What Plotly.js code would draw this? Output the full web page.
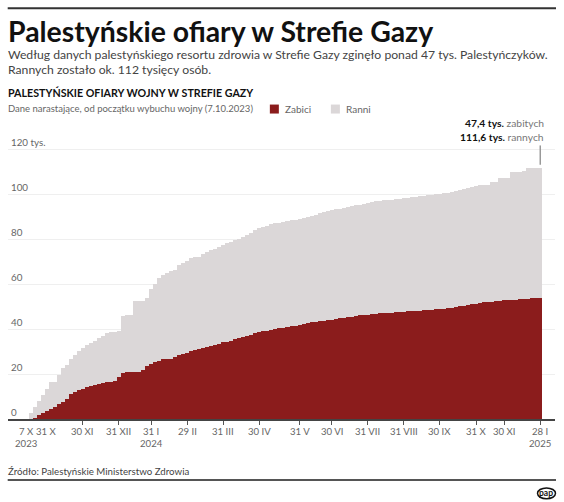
<!DOCTYPE html>
<html>
<head>
<meta charset="utf-8">
<script src="https://cdn.plot.ly/plotly-3.0.1.min.js"></script>
<style>
  html, body { margin: 0; padding: 0; background: #fff; }
  #chart { width: 564px; height: 502px; }
</style>
</head>
<body>
<div id="chart"></div>
<script>
// Cumulative wounded (thousands), one value per bar
const wounded = [
  2.5, 5.5, 8, 10.5, 13.5, 16.3, 16.3, 19.5, 22.5, 24.2,
  26.5, 28.4, 30.2, 31.5, 32.8, 33.8, 34.9, 36.1, 37, 38.2,
  38.7, 38.8, 39, 46, 46.2, 46.2, 52.4, 52.4, 52.4, 54,
  57.8, 60.2, 62.6, 64.1, 65.2, 65.8, 66.4, 68.6, 69.3, 70.2,
  71.5, 72, 72.3, 73.5, 74.5, 75.2, 75.8, 76.6, 77.5, 78.2,
  79, 79.7, 80.3, 81.2, 81.9, 83, 84, 84.9, 85.3, 85.8,
  86.6, 87.1, 87.3, 87.7, 88.1, 88.4, 88.8, 89.1, 89.4, 89.8,
  90.4, 91, 91.7, 92.3, 92.7, 93, 93.4, 93.7, 94, 94.4,
  94.7, 95.1, 95.5, 95.9, 96.3, 96.7, 96.9, 97.1, 97.3, 97.4,
  97.5, 97.8, 98, 98.3, 98.5, 98.8, 99, 99.2, 99.4, 99.6,
  99.8, 100, 100.2, 100.5, 100.7, 101.2, 101.7, 102.1, 102.6, 102.9,
  103.3, 103.6, 104, 104.4, 104.4, 105.6, 105.6, 107.1, 107.1, 107.1,
  110, 110, 110, 110.2, 111.6, 111.6, 111.6, 111.6
];
// Cumulative killed (thousands), one value per bar
const killed = [
  0, 0.5, 1.7, 2.8, 3.7, 4.6, 5.5, 6.5, 7.4, 9,
  11, 12, 12.7, 13.4, 14.2, 14.8, 15.2, 15.8, 16.2, 16.4,
  16.5, 17, 18.5, 20.6, 21.1, 21.1, 21.1, 21.1, 21.6, 23.5,
  24.6, 25.4, 26, 26.8, 26.8, 26.8, 27.8, 28.7, 29, 29.3,
  30.5, 30.8, 31.3, 31.8, 32.2, 32.7, 33.1, 33.5, 34.1, 34.4,
  34.9, 35.6, 36.2, 36.6, 37, 37.5, 38.3, 38.7, 39, 39.3,
  39.6, 40, 40.3, 40.6, 40.9, 41.3, 41.6, 41.9, 42.3, 42.7,
  43, 43.2, 43.5, 43.8, 44.1, 44.3, 44.6, 44.9, 45.1, 45.4,
  45.6, 45.9, 46.1, 46.3, 46.5, 46.7, 46.9, 47, 47.1, 47.2,
  47.4, 47.5, 47.6, 47.8, 47.9, 48, 48.2, 48.3, 48.4, 48.6,
  48.7, 48.8, 49, 49.1, 49.3, 49.6, 49.9, 50.2, 50.5, 50.8,
  51.1, 51.3, 51.6, 51.9, 52.1, 52.3, 52.5, 52.7, 52.9, 53,
  53.1, 53.2, 53.3, 53.4, 53.5, 53.7, 53.8, 54
];
// Bar index of each dated tick, its day label and (where shown) its year
const tickIndex = [0, 3, 13, 22, 30, 39, 48, 57, 67, 75, 84, 93, 102, 111, 118, 127];
const tickLabels = [
  '7 X', '31 X', '30 XI', '31 XII', '31 I', '29 II', '31 III', '30 IV',
  '31 V', '30 VI', '31 VII', '31 VIII', '30 IX', '31 X', '30 XI', '28 I'
];
const tickYears = ['2023', '', '', '', '2024', '', '', '', '', '', '', '', '', '', '', '2025'];
const yTickVals = [0, 20, 40, 60, 80, 100, 120];
const yTickText = ['0', '20', '40', '60', '80', '100', '120 tys.'];
const seriesNames = ['Zabici', 'Ranni'];
const finalKilled = '47,4';
const finalWounded = '111,6';

const RED = '#8b1c1c';
const GRAY = '#dbd7d8';
const FONT = 'Lato, "Noto Sans", sans-serif';

const idx = wounded.map((_, i) => i);

const traces = [
  { type: 'bar', x: idx, y: wounded, name: seriesNames[1], marker: { color: GRAY, line: { width: 0 } }, hoverinfo: 'skip' },
  { type: 'bar', x: idx, y: killed, name: seriesNames[0], marker: { color: RED, line: { width: 0 } }, hoverinfo: 'skip' }
];

// plot frame in page pixels; y range 0..126 at 2.25 px per unit
const YMAX = 126;
const PL = 8.3, PR = 555, PB = 419, PT = 419 - YMAX * 2.25;
const px = v => (v - PL) / (PR - PL);
const py = v => (PB - v) / (PB - PT);

function txt(text, x, y, size, color, opts) {
  return Object.assign({
    text: text, xref: 'paper', yref: 'paper', x: px(x), y: py(y),
    xanchor: 'left', yanchor: 'middle', showarrow: false,
    font: { family: FONT, size: size, color: color }, align: 'left'
  }, opts || {});
}

const annotations = [
  txt('<b>Palestyńskie ofiary w Strefie Gazy</b>', 6, 30, 28.4, '#111'),
  txt('Według danych palestyńskiego resortu zdrowia w Strefie Gazy zginęło ponad 47 tys. Palestyńczyków.', 6, 54.3, 12.2, '#444'),
  txt('Rannych zostało ok. 112 tysięcy osób.', 6, 68.7, 12.2, '#444'),
  txt('<b>PALESTYŃSKIE OFIARY WOJNY W STREFIE GAZY</b>', 6, 91.7, 10.7, '#111'),
  txt('Dane narastające, od początku wybuchu wojny (7.10.2023)', 6, 108.3, 9.5, '#666'),
  txt(seriesNames[0], 283, 108.3, 10, '#666'),
  txt(seriesNames[1], 344, 108.3, 10, '#666'),
  txt('<b>' + finalKilled + ' tys.</b> <span style="color:#777">zabitych</span>', 546, 122.3, 10.3, '#111', { xanchor: 'right', align: 'right' }),
  txt('<b>' + finalWounded + ' tys.</b> <span style="color:#777">rannych</span>', 546, 136.3, 10.3, '#111', { xanchor: 'right', align: 'right' }),
  txt('Źródło: Palestyńskie Ministerstwo Zdrowia', 6, 471.5, 9.7, '#444'),
  txt('<b>pap</b>', 546.5, 493.5, 8.5, '#111', { xanchor: 'center' })
];

// x tick labels drawn at the axis positions of their ticks
const nudge = { 0: -4, 1: 4 };
tickIndex.forEach((ti, k) => {
  const base = {
    xref: 'x', yref: 'paper', x: ti, xanchor: 'center', yanchor: 'middle',
    showarrow: false, xshift: nudge[k] || 0,
    font: { family: FONT, size: 9.6, color: '#666' }
  };
  annotations.push(Object.assign({}, base, { text: tickLabels[k], y: py(432) }));
  if (tickYears[k]) annotations.push(Object.assign({}, base, { text: tickYears[k], y: py(443.5) }));
});

const shapes = [
  { type: 'line', xref: 'paper', yref: 'paper', x0: px(8), x1: px(556), y0: py(7.5), y1: py(7.5), line: { color: '#333', width: 2 } },
  { type: 'line', xref: 'paper', yref: 'paper', x0: px(8), x1: px(556), y0: py(480), y1: py(480), line: { color: '#555', width: 2 } },
  { type: 'rect', xref: 'paper', yref: 'paper', x0: px(270), x1: px(279), y0: py(104), y1: py(113), fillcolor: RED, line: { width: 0 } },
  { type: 'rect', xref: 'paper', yref: 'paper', x0: px(331), x1: px(340), y0: py(104), y1: py(113), fillcolor: GRAY, line: { width: 0 } },
  { type: 'line', xref: 'x', yref: 'y', x0: wounded.length - 1, x1: wounded.length - 1, y0: 113.2, y1: 121.8, line: { color: '#999', width: 1.5 } },
  { type: 'circle', xref: 'paper', yref: 'paper', x0: px(537.5), x1: px(555.5), y0: py(488), y1: py(499), line: { color: '#111', width: 1.5 } }
];

const layout = {
  width: 564, height: 502,
  margin: { l: PL, r: 564 - PR, t: PT, b: 502 - PB, pad: 0 },
  paper_bgcolor: '#fff', plot_bgcolor: '#fff',
  barmode: 'overlay', bargap: 0,
  showlegend: false,
  font: { family: FONT, color: '#555' },
  xaxis: {
    range: [-5.66, 130.67],
    tickmode: 'array', tickvals: tickIndex, showticklabels: false,
    ticks: 'outside', ticklen: 4, tickwidth: 1, tickcolor: '#555',
    showline: true, linecolor: '#444', linewidth: 1.5,
    showgrid: false, zeroline: false,
    fixedrange: true
  },
  yaxis: {
    range: [0, YMAX],
    tickmode: 'array', tickvals: yTickVals, ticktext: yTickText,
    ticklabelposition: 'inside top',
    ticks: '', showline: false, zeroline: false,
    gridcolor: '#efefef', gridwidth: 1,
    tickfont: { family: FONT, size: 9.8, color: '#666' },
    fixedrange: true
  },
  annotations: annotations,
  shapes: shapes
};

Plotly.newPlot('chart', traces, layout, { displayModeBar: false, staticPlot: true });
</script>
</body>
</html>
